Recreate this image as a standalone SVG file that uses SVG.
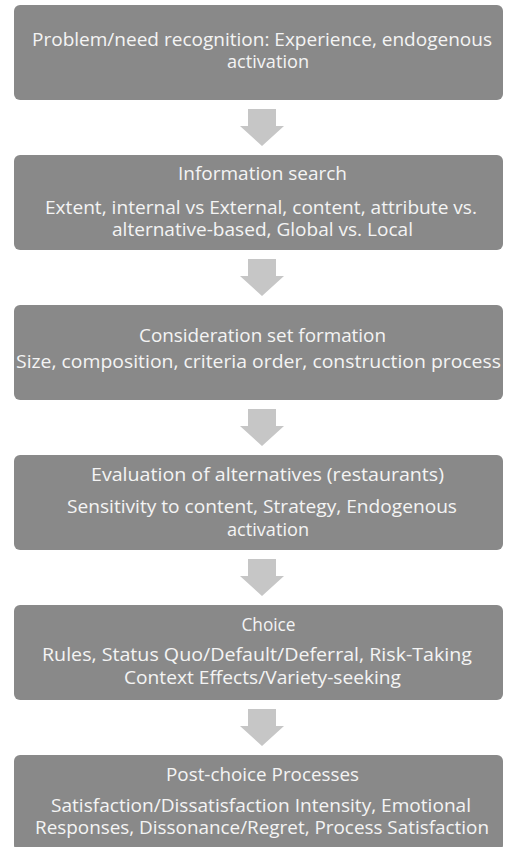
<svg xmlns="http://www.w3.org/2000/svg" width="505" height="847" viewBox="0 0 505 847">
<defs>
<style>
.box{fill:#898989;}
.arr{fill:#c6c6c6;}
text{font-family:"Open Sans","Noto Sans","Liberation Sans",sans-serif;font-size:18px;fill:#f4f4f4;text-anchor:middle;font-variant-ligatures:none;}
</style>
<path id="arrowShape" d="M248,0 H276 V17 H284 L262,37 L240,17 H248 Z"/>
</defs>
<rect x="0" y="0" width="505" height="847" fill="#ffffff"/>
<g id="connectors">
<use href="#arrowShape" class="arr" y="109"/>
<use href="#arrowShape" class="arr" y="259"/>
<use href="#arrowShape" class="arr" y="409"/>
<use href="#arrowShape" class="arr" y="559"/>
<use href="#arrowShape" class="arr" y="709"/>
</g>
<g id="node1">
<rect class="box" x="14" y="5" width="489" height="95" rx="6"/>
<text x="262" y="46" textLength="460" lengthAdjust="spacingAndGlyphs">Problem/need recognition: Experience, endogenous</text>
<text x="268" y="68" textLength="82" lengthAdjust="spacingAndGlyphs">activation</text>
</g>
<g id="node2">
<rect class="box" x="14" y="155" width="489" height="95" rx="6"/>
<text x="262.5" y="180" textLength="169" lengthAdjust="spacingAndGlyphs">Information search</text>
<text x="261" y="214" textLength="432" lengthAdjust="spacingAndGlyphs">Extent, internal vs External, content, attribute vs.</text>
<text x="262.5" y="236" textLength="301" lengthAdjust="spacingAndGlyphs">alternative-based, Global vs. Local</text>
</g>
<g id="node3">
<rect class="box" x="14" y="305" width="489" height="95" rx="6"/>
<text x="262.5" y="342" textLength="247" lengthAdjust="spacingAndGlyphs">Consideration set formation</text>
<text x="258.5" y="368" textLength="485" lengthAdjust="spacingAndGlyphs">Size, composition, criteria order, construction process</text>
</g>
<g id="node4">
<rect class="box" x="14" y="455" width="489" height="95" rx="6"/>
<text x="267.5" y="481" textLength="353" lengthAdjust="spacingAndGlyphs">Evaluation of alternatives (restaurants)</text>
<text x="262" y="513" textLength="390" lengthAdjust="spacingAndGlyphs">Sensitivity to content, Strategy, Endogenous</text>
<text x="268" y="536" textLength="82" lengthAdjust="spacingAndGlyphs">activation</text>
</g>
<g id="node5">
<rect class="box" x="14" y="605" width="489" height="95" rx="6"/>
<text x="268.5" y="631" textLength="54" lengthAdjust="spacingAndGlyphs">Choice</text>
<text x="257" y="661" textLength="430" lengthAdjust="spacingAndGlyphs">Rules, Status Quo/Default/Deferral, Risk-Taking</text>
<text x="262.5" y="684" textLength="277" lengthAdjust="spacingAndGlyphs">Context Effects/Variety-seeking</text>
</g>
<g id="node6">
<rect class="box" x="14" y="755" width="489" height="96" rx="6"/>
<text x="262.5" y="781" textLength="193" lengthAdjust="spacingAndGlyphs">Post-choice Processes</text>
<text x="261" y="812" textLength="420" lengthAdjust="spacingAndGlyphs">Satisfaction/Dissatisfaction Intensity, Emotional</text>
<text x="262" y="834" textLength="454" lengthAdjust="spacingAndGlyphs">Responses, Dissonance/Regret, Process Satisfaction</text>
</g>
</svg>
